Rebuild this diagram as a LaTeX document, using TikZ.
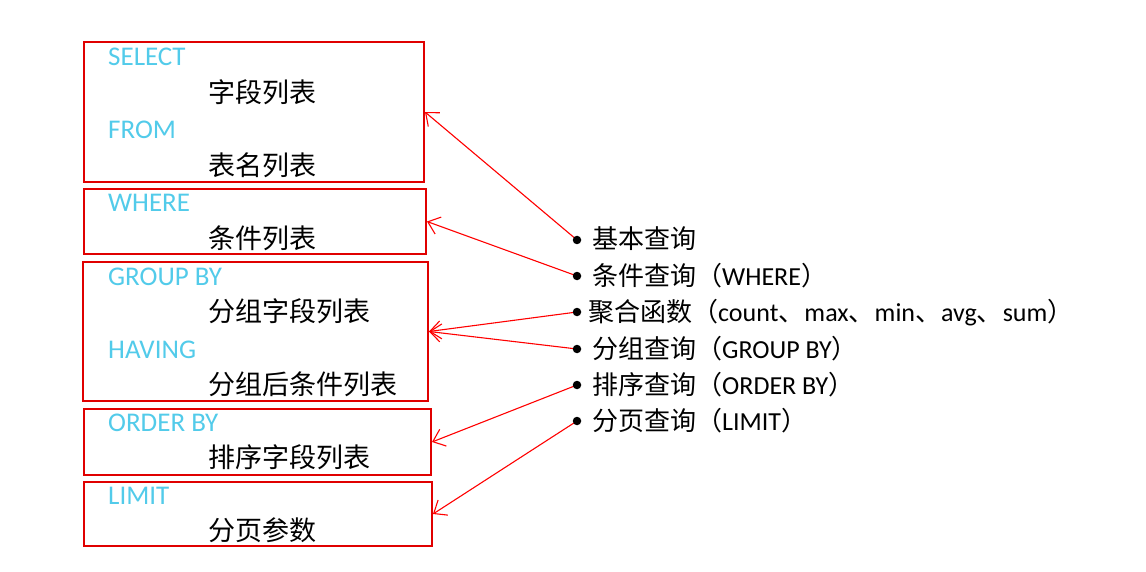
\documentclass[tikz,border=0pt]{standalone}
\usepackage{fontspec}
\setmainfont{Carlito}
\newfontfamily\cjk{Noto Sans CJK SC}
\newfontfamily\lat{Carlito}
\usetikzlibrary{arrows.meta}
\definecolor{kw}{HTML}{52CBEA}
\definecolor{bred}{HTML}{E00000}
\begin{document}
\begin{tikzpicture}[x=1pt,y=-1pt,
  box/.style={draw=bred,line width=2pt,inner sep=0pt,anchor=north west},
  kwtext/.style={anchor=base west,inner sep=0pt,text=kw,font=\lat\fontsize{27}{27}\selectfont},
  cntext/.style={anchor=base west,inner sep=0pt,font=\cjk\fontsize{27}{27}\selectfont},
  item/.style={anchor=base west,inner sep=0pt,font=\lat\fontsize{26}{26}\selectfont},
  dot/.style={circle,fill=black,inner sep=0pt,minimum size=8.5pt},
  arr/.style={draw=red,line width=1.1pt,-{Straight Barb[length=11pt,width=18pt]}}]
\useasboundingbox[fill=white] (0,0) rectangle (1146,572);

% boxes
\node[box,minimum width=340pt,minimum height=140pt] (b1) at (83,41) {};
\node[box,minimum width=342pt,minimum height=65pt] (b2) at (83,188) {};
\node[box,minimum width=345pt,minimum height=139pt] (b3) at (82,261) {};
\node[box,minimum width=347pt,minimum height=66pt] (b4) at (83,408) {};
\node[box,minimum width=348pt,minimum height=64pt] (b5) at (83,481) {};

% box texts
\node[kwtext] (t1) at (108,66) {SELECT};
\node[cntext] (t2) at (208,102.5) {字段列表};
\node[kwtext] (t3) at (108,139) {FROM};
\node[cntext] (t4) at (208,175.5) {表名列表};
\node[kwtext] (t5) at (108,212) {WHERE};
\node[cntext] (t6) at (208,248.5) {条件列表};
\node[kwtext] (t7) at (108,285) {GROUP BY};
\node[cntext] (t8) at (208,321.5) {分组字段列表};
\node[kwtext] (t9) at (108,358) {HAVING};
\node[cntext] (t10) at (208,394.5) {分组后条件列表};
\node[kwtext] (t11) at (108,431) {ORDER BY};
\node[cntext] (t12) at (208,467.5) {排序字段列表};
\node[kwtext] (t13) at (108,504) {LIMIT};
\node[cntext] (t14) at (208,540.5) {分页参数};

% list bullets (positions)
\coordinate (c1) at (577,240);
\coordinate (c2) at (577,276);
\coordinate (c3) at (577,312);
\coordinate (c4) at (577,349);
\coordinate (c5) at (577,385);
\coordinate (c6) at (577,421);

% arrows
\draw[arr] (c1) -- (b1.east);
\draw[arr] (c2) -- (b2.east);
\draw[arr] (c3) -- (b3.east);
\draw[arr] (c4) -- (b3.east);
\draw[arr] (c5) -- (b4.east);
\draw[arr] (c6) -- (b5.east);

\node[dot] (d1) at (c1) {};
\node[dot] (d2) at (c2) {};
\node[dot] (d3) at (c3) {};
\node[dot] (d4) at (c4) {};
\node[dot] (d5) at (c5) {};
\node[dot] (d6) at (c6) {};

\node[item] (i1) at (592,249) {{\cjk 基本查询}};
\node[item] (i2) at (592,285) {{\cjk 条件查询（}WHERE{\cjk ）}};
\node[item] (i3) at (588,321) {{\cjk 聚合函数（}count{\cjk 、}max{\cjk 、}min{\cjk 、}avg{\cjk 、}sum{\cjk ）}};
\node[item] (i4) at (592,358) {{\cjk 分组查询（}GROUP BY{\cjk ）}};
\node[item] (i5) at (592,394) {{\cjk 排序查询（}ORDER BY{\cjk ）}};
\node[item] (i6) at (592,430) {{\cjk 分页查询（}LIMIT{\cjk ）}};
\end{tikzpicture}
\end{document}
